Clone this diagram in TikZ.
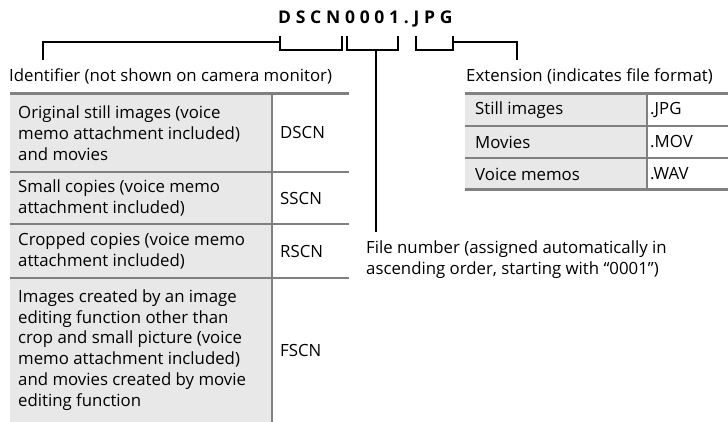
\documentclass[tikz,border=0pt]{standalone}
\usepackage{fontspec}
\setmainfont{Open Sans}
\usetikzlibrary{positioning}
\definecolor{rulegray}{RGB}{128,128,128}
\definecolor{cellgray}{RGB}{232,232,232}
\begin{document}
\begin{tikzpicture}[
    x=1pt, y=-1pt,
    every node/.style={font=\fontsize{16.8}{20.8}\selectfont, inner sep=0pt},
    lbl/.style={anchor=west, align=left},
    cell/.style={anchor=west, align=left},
    rule/.style={draw=rulegray, line width=2pt},
    heavyrule/.style={draw=rulegray, line width=3pt},
    conn/.style={draw, line width=1.8pt},
    bracket/.style={draw, line width=1.8pt}
]
\useasboundingbox (0,0) rectangle (728,422);
% file name and the three brackets under it
\node[font=\fontsize{17.5}{18}\selectfont\bfseries\addfontfeature{LetterSpace=27}, anchor=west] (name) at (278,19) {DSCN0001.JPG};
\draw[bracket] (280,36) |- (342,50) -- (342,36);
\draw[bracket] (347,36) |- (398,50) -- (398,36);
\draw[bracket] (416,36) |- (453,50) -- (453,36);
\coordinate (id) at (280,42);
\coordinate (num) at (376,50);
\coordinate (ext) at (453,42);
\coordinate (idend) at (43,60);
\coordinate (extend) at (517,60);
% labels
\node[lbl] (idlabel) at (9,76) {Identifier (not shown on camera monitor)};
\node[lbl] (extlabel) at (466,76) {Extension (indicates file format)};
\node[lbl, anchor=north west] (numlabel) at (366,241) {File number (assigned automatically in\\ascending order, starting with “0001”)};
\draw[conn] (id) -| (idend);
\draw[conn] (ext) -| (extend);
\draw[conn] (num) -- ([yshift=9pt]num |- numlabel.north);
% identifier table
\fill[cellgray] (10,94) rectangle (272,422);
\foreach \y in {172,224,278} \draw[rule] (10,\y) -- (349,\y);
\draw[heavyrule] (10,94) -- (349,94);
\draw[rule] (272,94) -- (272,422);
\node[cell] (orig) at (18,133) {Original still images (voice\\memo attachment included)\\and movies};
\node[cell] (origid) at (280,133) {DSCN};
\node[cell] (small) at (18,198) {Small copies (voice memo\\attachment included)};
\node[cell] (smallid) at (280,198) {SSCN};
\node[cell] (crop) at (18,251) {Cropped copies (voice memo\\attachment included)};
\node[cell] (cropid) at (280,251) {RSCN};
\node[cell] (edit) at (18,350) {Images created by an image\\editing function other than\\crop and small picture (voice\\memo attachment included)\\and movies created by movie\\editing function};
\node[cell] (editid) at (280,350) {FSCN};
% extension table
\fill[cellgray] (465,94) rectangle (647,190);
\foreach \y in {126,158} \draw[rule] (465,\y) -- (728,\y);
\draw[heavyrule] (465,94) -- (728,94);
\draw[heavyrule] (465,190) -- (728,190);
\draw[rule] (647,94) -- (647,190);
\node[cell] (still) at (475,110) {Still images};
\node[cell] (stillext) at (650,110) {.JPG};
\node[cell] (movie) at (475,142) {Movies};
\node[cell] (movieext) at (650,142) {.MOV};
\node[cell] (voice) at (475,174) {Voice memos};
\node[cell] (voiceext) at (650,174) {.WAV};
\end{tikzpicture}
\end{document}
